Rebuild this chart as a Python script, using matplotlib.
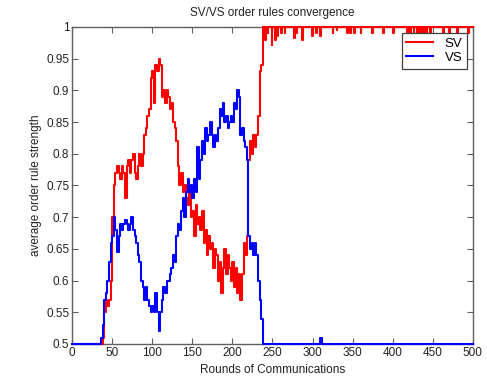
import matplotlib
matplotlib.use("Agg")
import matplotlib.pyplot as plt

plt.rcParams['font.family'] = ['Liberation Sans', 'DejaVu Sans']

# ---- data ----
# SV: value at round 0, then every 2 rounds from 36 to 238
sv_main_rounds = [0] + list(range(36, 240, 2))
sv_main = [0.50,
           0.50, 0.51, 0.55, 0.57, 0.56, 0.57, 0.60, 0.70, 0.75, 0.77,   # 36-54
           0.78, 0.77, 0.76, 0.78, 0.77, 0.73, 0.78, 0.79, 0.77, 0.79,   # 56-74
           0.80, 0.77, 0.76, 0.78, 0.80, 0.78, 0.80, 0.83, 0.84, 0.86,   # 76-94
           0.87, 0.92, 0.93, 0.88, 0.94, 0.93, 0.95, 0.94, 0.89, 0.90,   # 96-114
           0.88, 0.90, 0.89, 0.87, 0.88, 0.85, 0.84, 0.82, 0.78, 0.75,   # 116-134
           0.77, 0.74, 0.75, 0.73, 0.72, 0.74, 0.70, 0.71, 0.67, 0.72,   # 136-154
           0.69, 0.70, 0.68, 0.71, 0.66, 0.68, 0.64, 0.67, 0.65, 0.66,   # 156-174
           0.62, 0.65, 0.64, 0.60, 0.63, 0.58, 0.62, 0.65, 0.61, 0.64,   # 176-194
           0.62, 0.60, 0.63, 0.59, 0.62, 0.58, 0.61, 0.57, 0.61, 0.66,   # 196-214
           0.64, 0.67, 0.79, 0.82, 0.80, 0.83, 0.81, 0.83, 0.86, 0.93,   # 216-234
           0.94, 1.00]                                                   # 236-238
# SV: after convergence it stays at 1 with short one-round dips
sv_dip_rounds = [241, 244, 249, 253, 256, 261, 265, 277, 279, 287, 299, 304, 309, 325,
                 330, 343, 347, 352, 360, 374, 388, 400, 418, 422, 426, 430, 434, 438,
                 442, 447, 463, 470, 480, 494]
sv_dip_values = [0.98, 0.99, 0.972, 0.98, 0.985, 0.99, 0.99, 0.982, 0.99, 0.98, 0.985, 0.99,
                 0.985, 0.99, 0.995, 0.99, 0.99, 0.99, 0.99, 0.99, 0.99, 0.99, 0.99, 0.99,
                 0.99, 0.99, 0.99, 0.99, 0.99, 0.99, 0.99, 0.99, 0.99, 0.99]
sv_final = 1.00

# VS: value at round 0, then every 2 rounds from 34 to 238
vs_main_rounds = [0] + list(range(34, 240, 2))
vs_main = [0.50,
           0.50, 0.51, 0.53, 0.57, 0.58, 0.60, 0.63, 0.66, 0.67, 0.70,   # 34-52
           0.68, 0.645, 0.67, 0.69, 0.68, 0.69, 0.695, 0.69, 0.68, 0.69, # 54-72
           0.70, 0.68, 0.67, 0.66, 0.64, 0.63, 0.60, 0.59, 0.57, 0.59,   # 74-92
           0.57, 0.56, 0.55, 0.56, 0.55, 0.58, 0.55, 0.52, 0.55, 0.57,   # 94-112
           0.59, 0.58, 0.60, 0.60, 0.61, 0.62, 0.64, 0.63, 0.67, 0.69,   # 114-132
           0.68, 0.71, 0.73, 0.70, 0.74, 0.76, 0.74, 0.75, 0.73, 0.76,   # 134-152
           0.74, 0.81, 0.76, 0.79, 0.82, 0.80, 0.84, 0.82, 0.83, 0.85,   # 154-172
           0.83, 0.81, 0.83, 0.82, 0.84, 0.87, 0.86, 0.88, 0.85, 0.86,   # 174-192
           0.84, 0.85, 0.86, 0.85, 0.88, 0.87, 0.90, 0.89, 0.83, 0.84,   # 194-212
           0.82, 0.81, 0.79, 0.67, 0.65, 0.66, 0.64, 0.66, 0.64, 0.60,   # 214-232
           0.57, 0.54, 0.50]                                             # 234-238
vs_tail_rounds = [309, 312, 500]
vs_tail = [0.51, 0.50, 0.50]

x_ticks = [0, 50, 100, 150, 200, 250, 300, 350, 400, 450, 500]
y_ticks = [0.5, 0.55, 0.6, 0.65, 0.7, 0.75, 0.8, 0.85, 0.9, 0.95, 1]
y_tick_labels = ['0.5', '0.55', '0.6', '0.65', '0.7', '0.75', '0.8', '0.85', '0.9', '0.95', '1']

# ---- assemble series ----
sv_x = list(sv_main_rounds)
sv_y = list(sv_main[:len(sv_main_rounds)])
for r, v in zip(sv_dip_rounds, sv_dip_values):
    sv_x += [r, r + 1]
    sv_y += [v, sv_final]
sv_x.append(500)
sv_y.append(sv_final)

vs_x = list(vs_main_rounds) + vs_tail_rounds
vs_y = list(vs_main[:len(vs_main_rounds)]) + vs_tail

# ---- figure ----
fig = plt.figure(figsize=(4.87, 3.78), dpi=100)
fig.patch.set_facecolor('white')
ax = fig.add_axes([0.148, 0.090, 0.823, 0.8386])

ax.plot(sv_x, sv_y, color='#ff0000', lw=1.5, drawstyle='steps-post', label='SV',
        clip_on=False, zorder=3)
ax.plot(vs_x, vs_y, color='#0000ff', lw=1.5, drawstyle='steps-post', label='VS',
        clip_on=False, zorder=4)

ax.set_xlim(0, 500)
ax.set_ylim(0.5, 1)
ax.set_xticks(x_ticks)
ax.set_yticks(y_ticks)
ax.set_yticklabels(y_tick_labels)
ax.tick_params(direction='in', length=4, width=0.8, top=True, right=True,
               labelsize=8.5, colors='#606060', labelcolor='#222222', pad=2)
for s in ax.spines.values():
    s.set_color('#606060')
    s.set_linewidth(1.0)
    s.set_zorder(2)

ax.set_title('SV/VS order rules convergence', fontsize=8.5, color='#222222', pad=8)
ax.set_xlabel('Rounds of Communications', fontsize=8.5, color='#222222', labelpad=4)
ax.set_ylabel('average order rule strength', fontsize=8.5, color='#222222', labelpad=3)

leg = ax.legend(loc='upper right', fontsize=9.5, frameon=True, fancybox=False,
                handlelength=2.0, borderaxespad=0.45, borderpad=0.35, labelspacing=0.15,
                handletextpad=0.9)
leg.get_frame().set_edgecolor('#404040')
leg.get_frame().set_linewidth(0.9)
leg.get_frame().set_alpha(1)
leg.set_zorder(10)

fig.savefig('out.png', dpi=100, facecolor='white')
